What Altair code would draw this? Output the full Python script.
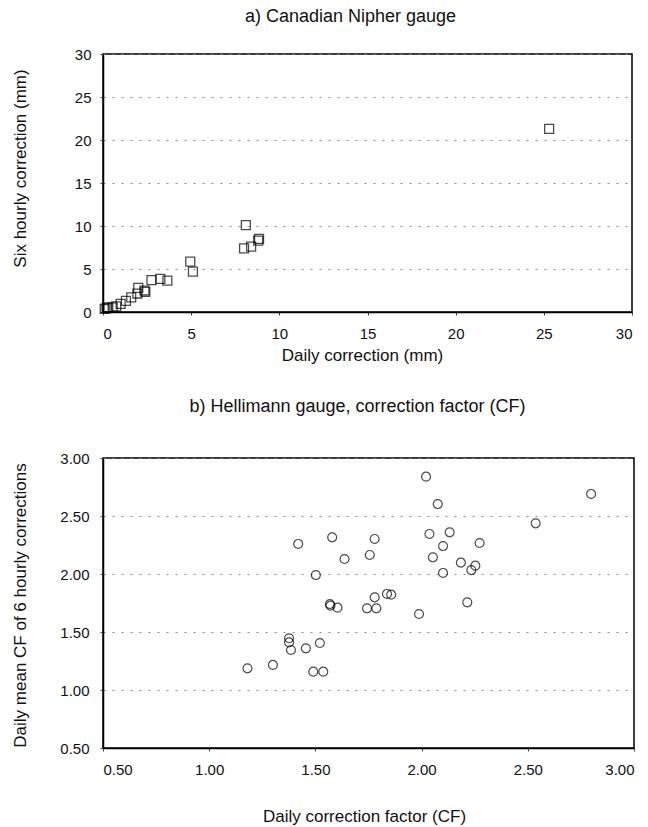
import altair as alt
import pandas as pd

FONT = "Liberation Sans"

# Panel a) Canadian Nipher gauge
a_daily = [0.1, 0.2, 0.3, 0.55, 0.75, 1.0, 1.3, 1.6, 1.95, 2.0, 2.35, 2.4,
           2.75, 3.25, 3.65, 4.95, 5.1, 8.0, 8.1, 8.4, 8.8, 8.85, 25.3]
a_six = [0.35, 0.45, 0.55, 0.55, 0.65, 0.95, 1.3, 1.7, 2.15, 2.8, 2.5, 2.35,
         3.7, 3.85, 3.65, 5.85, 4.7, 7.4, 10.1, 7.6, 8.3, 8.5, 21.3]
a_ticks = [0, 5, 10, 15, 20, 25, 30]

# Panel b) Hellimann gauge, correction factor
b_daily_cf = [1.18, 1.30, 1.376, 1.376, 1.385, 1.419, 1.455, 1.49, 1.502, 1.521,
              1.537, 1.568, 1.571, 1.579, 1.604, 1.637, 1.743, 1.756, 1.779, 1.779,
              1.787, 1.837, 1.857, 1.988, 2.021, 2.037, 2.053, 2.076, 2.101, 2.101,
              2.132, 2.185, 2.215, 2.234, 2.253, 2.273, 2.537, 2.798]
b_mean_cf = [1.187, 1.216, 1.446, 1.41, 1.345, 2.259, 1.359, 1.158, 1.991, 1.405,
             1.158, 1.741, 1.727, 2.316, 1.71, 2.129, 1.704, 2.164, 2.302, 1.799,
             1.704, 1.828, 1.822, 1.655, 2.839, 2.345, 2.144, 2.603, 2.241, 2.009,
             2.359, 2.098, 1.756, 2.034, 2.072, 2.267, 2.437, 2.69]
b_ticks = [0.5, 1.0, 1.5, 2.0, 2.5, 3.0]

dfa = pd.DataFrame({"daily": a_daily, "six": a_six})
dfb = pd.DataFrame({"daily_cf": b_daily_cf, "mean_cf": b_mean_cf})

common = dict(
    domainColor="black", domainWidth=1.5,
    tickColor="#444", tickSize=3,
    labelFont=FONT, labelFontSize=15, labelColor="#111",
    titleFont=FONT, titleFontSize=17, titleFontWeight="normal", titleColor="#111",
    titleAlign="center", titleBaseline="middle",
    gridColor="#8a8a8a", gridDash=[2, 7], gridWidth=1,
)

WA, HA = 529, 258
WB, HB = 531, 290

chart_a = alt.Chart(dfa).mark_point(
    shape="square", filled=False, color="black", size=80, strokeWidth=1.3
).encode(
    x=alt.X("daily:Q", scale=alt.Scale(domain=[0, 30], nice=False, zero=False),
            axis=alt.Axis(values=a_ticks, grid=False, title="Daily correction (mm)",
                          labelPadding=11, titleX=259, titleY=43, **common)),
    y=alt.Y("six:Q", scale=alt.Scale(domain=[0, 30], nice=False, zero=False),
            axis=alt.Axis(values=a_ticks, grid=True, title="Six hourly correction (mm)",
                          labelPadding=9, titleX=-83, titleY=114, titleAngle=270, **common)),
).properties(
    width=WA, height=HA,
    title=alt.Title("a) Canadian Nipher gauge", font=FONT, fontSize=18,
                    fontWeight="normal", color="#111", anchor="middle", dx=-17, offset=21),
)

chart_b = alt.Chart(dfb).mark_point(
    shape="circle", filled=False, color="black", size=80, strokeWidth=1.2
).encode(
    x=alt.X("daily_cf:Q", scale=alt.Scale(domain=[0.5, 3.0], nice=False, zero=False),
            axis=alt.Axis(values=b_ticks, format=".2f", grid=False,
                          title="Daily correction factor (CF)",
                          labelPadding=11, titleX=261, titleY=68, **common)),
    y=alt.Y("mean_cf:Q", scale=alt.Scale(domain=[0.5, 3.0], nice=False, zero=False),
            axis=alt.Axis(values=b_ticks, format=".2f", grid=True,
                          title="Daily mean CF of 6 hourly corrections",
                          labelPadding=11, titleX=-83, titleY=147, titleAngle=270, **common)),
).properties(
    width=WB, height=HB,
    title=alt.Title("b) Hellimann gauge, correction factor (CF)", font=FONT, fontSize=18,
                    fontWeight="normal", color="#111", anchor="middle", dx=-11, offset=35),
)

chart = alt.vconcat(chart_a, chart_b, spacing=146, bounds="flush").properties(
    padding={"left": 10, "top": 7, "right": 5, "bottom": 5},
    background="white",
).configure_view(stroke="black", strokeWidth=1.5)

chart.save("out.html", embed_options={"renderer": "svg", "actions": False})
